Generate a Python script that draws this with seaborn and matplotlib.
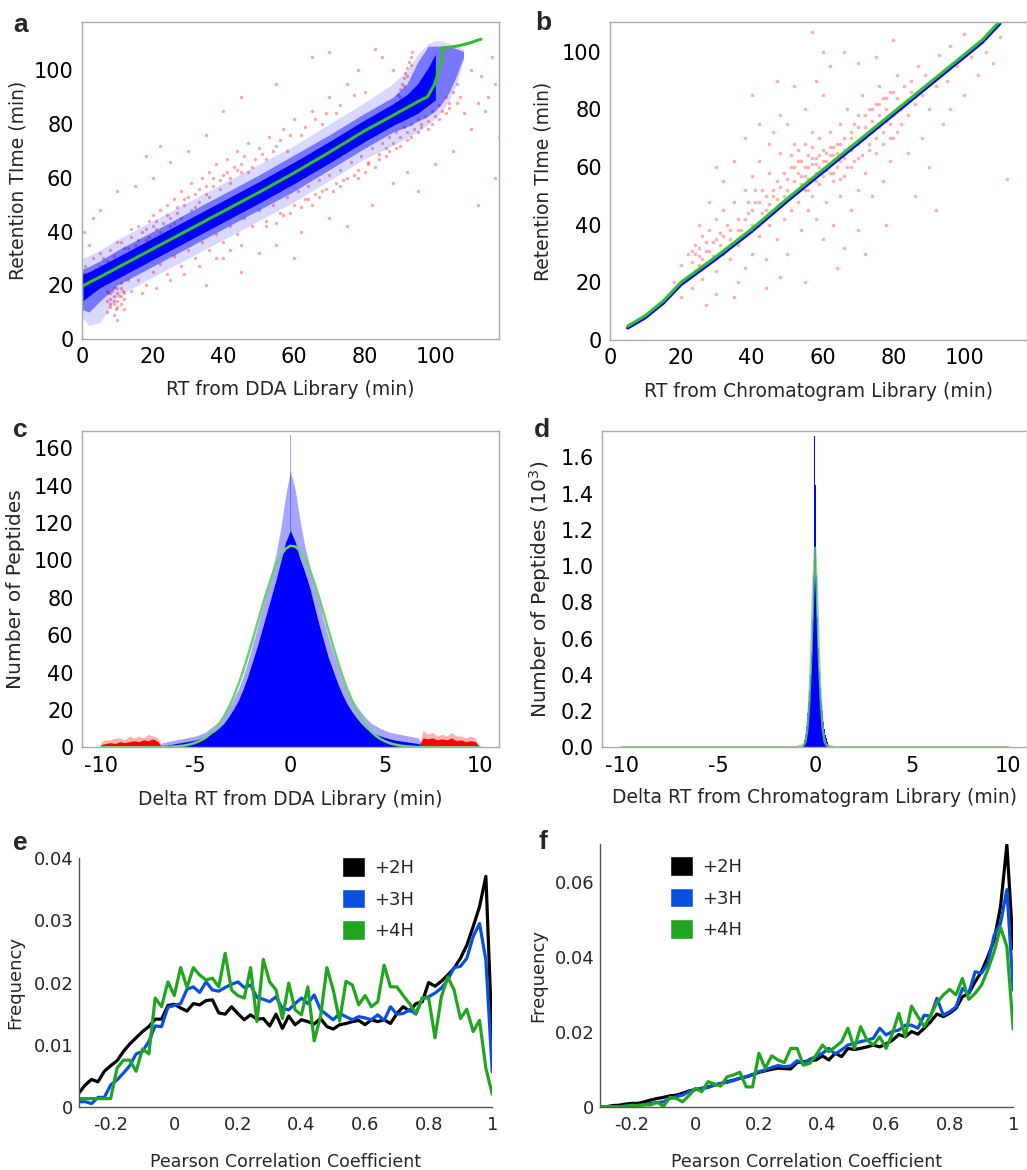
import numpy as np
import pandas as pd
import seaborn as sns
import matplotlib.pyplot as plt
from matplotlib.patches import Patch
from matplotlib.ticker import MultipleLocator, FormatStrFormatter

sns.set_style("white")
plt.rcParams['font.family'] = ['DejaVu Sans']
plt.rcParams['axes.unicode_minus'] = False

BLUE = '#0000ff'
RED = '#ff0000'
GREEN = '#2fbf2f'
LGREEN = '#6fcf6f'
E_COLORS = {'+2H': '#000000', '+3H': '#0a50e0', '+4H': '#22a51e'}

# ---------------- panel a : RT vs DDA library ----------------
a_band_x = [0, 2, 5, 10, 20, 30, 40, 50, 60, 70, 80, 88, 92, 95, 98, 100, 102, 104, 106, 108]
a_outer_lo = [8, 5, 6, 16, 23, 30, 37, 44, 51, 59, 67, 72, 75, 77, 80, 82, 85, 89, 95, 104]
a_outer_hi = [30, 31, 33, 37, 44, 51, 58, 65, 72, 80, 88, 95, 100, 106, 110, 111, 111, 110, 109, 108]
a_mid_lo = [11, 10, 14, 20, 27, 34, 41, 48, 55, 63, 71, 77, 79, 81, 83, 85, 88, 92, 98, 105]
a_mid_hi = [26, 27, 29, 33, 40, 47, 54, 61, 68.5, 76, 84, 90, 95, 103, 109, 109, 109, 109, 108, 107]
a_core_x = [0, 2, 5, 10, 20, 30, 40, 50, 60, 70, 80, 88, 92, 95, 98, 100]
a_core_lo = [14, 16, 19, 22.5, 29.5, 36.5, 43.5, 50.5, 57.8, 65.5, 73.5, 79.5, 82, 84, 87, 89]
a_core_hi = [24, 25, 27, 30.5, 37.5, 44.5, 51.5, 58.5, 65.8, 73.5, 81.5, 87.5, 91, 95, 101, 106]
a_fit_x = [0, 0, 2, 5, 10, 20, 30, 40, 50, 60, 70, 80, 88, 95, 97.8, 99.7, 101.1, 101.9, 101.9, 104, 106.8, 110, 112.9]
a_fit_y = [12.5, 19.5, 21, 23, 26.5, 33.5, 40.5, 47.5, 54.5, 61.8, 69.5, 77.5, 83.2, 88.3, 90.2, 94.6, 100.2, 104, 108.3, 108.6, 109.2, 110.3, 111.6]
a_red_points = [
    (0.5, 24), (1, 27), (2, 21), (3, 30), (4, 26), (5, 32), (2, 35), (0.5, 40), (3, 45),
    (7, 14), (7.5, 17), (8, 12), (8, 15), (8.5, 18), (9, 13), (9, 16), (9.5, 11), (10, 14), (10, 19),
    (10.5, 16), (11, 13), (11, 21), (11.5, 18), (12, 15), (12, 24), (13, 22), (7, 10), (9, 9), (10, 7), (12, 11),
    (8, 17), (9, 19), (10, 12), (11, 16), (12, 17), (9, 14), (10, 17), (11, 19), (8, 13), (7, 18),
    (6, 30), (8, 33), (10, 36), (12, 34), (14, 38), (15, 35), (16, 42), (17, 40), (18, 37), (19, 44),
    (20, 46), (21, 41), (22, 48), (23, 43), (24, 50), (25, 45), (26, 52), (27, 47), (28, 55), (29, 50),
    (30, 53), (31, 58), (32, 49), (33, 56), (34, 60), (35, 54), (36, 62), (37, 57), (38, 65), (39, 59),
    (40, 61), (41, 67), (42, 58), (43, 64), (44, 70), (45, 62), (46, 68), (47, 73), (48, 64), (50, 71),
    (52, 67), (53, 75), (55, 72), (57, 78), (58, 70), (60, 82), (62, 76), (65, 85), (68, 80), (70, 90),
    (72, 84), (75, 95), (78, 100), (80, 92), (85, 105), (83, 108), (88, 100),
    (11, 36), (13, 34), (14, 41), (16, 37), (18, 41), (19, 38), (21, 44), (22, 40), (24, 46), (25, 42),
    (27, 49), (28, 45), (29, 52), (31, 48), (32, 54), (33, 51), (35, 57), (36, 53), (37, 60), (39, 56),
    (41, 62), (42, 60), (44, 63), (45, 65), (47, 62), (49, 67), (51, 69), (54, 70), (56, 74), (59, 76),
    (63, 79), (66, 82), (69, 84), (73, 87), (77, 91), (12, 28), (9, 31), (5, 27), (7, 29), (38, 44),
    (26, 43), (20, 42),
    (20, 60), (15, 57), (25, 66), (30, 70), (35, 76), (40, 85), (22, 72), (45, 90), (55, 95), (65, 105), (70, 107),
    (14, 18), (16, 22), (18, 20), (20, 25), (22, 28), (24, 24), (26, 31), (28, 27), (30, 33), (32, 30),
    (34, 36), (36, 33), (38, 39), (40, 36), (42, 42), (44, 39), (46, 45), (48, 42), (50, 48), (52, 44),
    (54, 50), (56, 47), (58, 53), (60, 50), (61, 55), (63, 52), (64, 57), (66, 54), (67, 59), (69, 56),
    (70, 61), (72, 58), (73, 63), (75, 60), (76, 66), (78, 63), (79, 68), (81, 66), (82, 71), (84, 69),
    (85, 73), (86, 71), (87, 75), (88, 73), (89, 77), (90, 75), (91, 79), (92, 77), (93, 80), (94, 78),
    (95, 82), (96, 80), (97, 83), (98, 81), (99, 85), (100, 83), (101, 87), (102, 85), (103, 90), (104, 88),
    (105, 92), (106, 95), (107, 90),
    (52, 42), (55, 43), (57, 46), (59, 47), (62, 49), (64, 52), (65, 50), (67, 53), (68, 55), (71, 55),
    (73, 57), (74, 59), (77, 61), (78, 60), (80, 62), (81, 65), (83, 64), (84, 67), (86, 68), (87, 70),
    (89, 71), (90, 72), (92, 74), (93, 75), (95, 77), (96, 79), (98, 78), (99, 80), (101, 82), (103, 84),
    (104, 86), (106, 88), (45, 35), (42, 33), (38, 30), (33, 27), (29, 24), (25, 22), (21, 19), (17, 17),
    (35, 20), (45, 25), (55, 35), (62, 40), (70, 45), (75, 42), (82, 50), (88, 58), (92, 62), (95, 55),
    (100, 65), (105, 70), (110, 78), (108, 84), (112, 88), (115, 90), (117, 95), (113, 98), (110, 100),
    (116, 105), (114, 85), (117, 60), (112, 50), (118, 75),
    (89, 88), (89.5, 91), (90, 93), (90.5, 95), (91, 97), (91.5, 99), (92, 101), (92.5, 103), (93, 105),
    (93.5, 107), (90, 90), (91, 94), (92, 98), (93, 102),
    (60, 30), (50, 32), (40, 30), (28, 38), (20, 33), (5, 48), (18, 68), (10, 55),
]

# ---------------- panel b : RT vs chromatogram library ----------------
b_fit_x = [5, 10, 15, 20, 30, 40, 50, 60, 70, 80, 90, 100, 105, 110]
b_fit_y = [4.8, 8.5, 13.5, 20, 29, 38.5, 49, 59, 69, 79, 89, 99, 104, 110.5]
b_blue_y = [4.2, 7.8, 12.8, 19.2, 28.2, 37.7, 48.2, 58.2, 68.2, 78.2, 88.2, 98.2, 103.2, 109.7]
b_red_points = [
    (18, 20), (20, 15), (20, 26), (22, 22), (22, 30), (23, 27), (24, 33), (24, 24), (25, 29), (26, 36),
    (26, 21), (27, 31), (28, 27), (28, 38), (29, 34), (30, 24), (30, 42), (31, 37), (32, 30), (32, 45),
    (33, 40), (34, 35), (34, 28), (35, 48), (36, 42), (36, 33), (37, 38), (38, 52), (38, 25), (39, 44),
    (40, 40), (40, 57), (40, 30), (41, 48), (42, 36), (42, 62), (43, 52), (44, 45), (44, 28), (45, 58),
    (45, 40), (46, 50), (46, 72), (47, 35), (47, 55), (48, 47), (48, 65), (49, 42), (49, 58), (50, 52),
    (50, 30), (50, 75), (51, 60), (51, 45), (52, 55), (52, 68), (53, 48), (53, 62), (54, 57), (54, 38),
    (55, 60), (55, 52), (55, 80), (56, 64), (56, 56), (56, 45), (57, 61), (57, 67), (57, 50), (58, 58),
    (58, 63), (58, 42), (59, 60), (59, 70), (59, 54), (60, 62), (60, 57), (60, 35), (60, 85), (61, 65),
    (61, 59), (61, 48), (62, 67), (62, 61), (62, 72), (63, 64), (63, 55), (63, 40), (64, 68), (64, 60),
    (65, 62), (65, 75), (65, 50), (66, 70), (66, 57), (66, 32), (67, 66), (67, 80), (68, 72), (68, 60),
    (68, 45), (69, 68), (69, 75), (70, 63), (70, 78), (70, 52), (70, 38), (71, 70), (71, 85), (72, 74),
    (72, 58), (73, 68), (73, 80), (74, 76), (74, 50), (75, 82), (75, 65), (76, 78), (76, 88), (77, 72),
    (77, 55), (78, 84), (78, 80), (79, 75), (79, 62), (80, 86), (80, 70), (81, 80), (81, 92), (82, 75),
    (83, 88), (84, 78), (84, 65), (85, 90), (86, 82), (87, 95), (88, 85), (88, 70), (89, 92), (90, 80),
    (90, 60), (92, 88), (93, 99), (94, 75), (95, 90), (96, 102), (98, 95), (100, 85), (100, 106), (102, 98),
    (104, 92), (106, 100), (108, 96), (110, 105), (112, 56), (96, 80), (92, 45), (86, 50), (78, 40), (72, 30),
    (64, 25), (55, 20), (48, 22), (44, 18), (36, 20), (30, 16), (25, 40), (30, 60), (28, 48), (32, 55),
    (35, 62), (38, 70), (42, 75), (48, 78), (52, 88), (58, 90), (62, 95), (66, 100), (70, 96), (75, 98),
    (80, 104), (57, 107), (60, 100), (45, 68), (35, 15), (40, 85), (47, 90), (23, 18), (27, 12),
    (53, 58), (54, 62), (55, 57), (56, 60), (57, 63), (58, 61), (59, 64), (60, 66), (61, 62), (62, 64),
    (63, 67), (64, 65), (65, 68), (66, 66), (52, 60), (54, 54), (56, 52), (58, 55), (60, 59), (62, 58),
    (64, 63), (66, 63), (68, 66), (70, 68), (72, 70), (74, 72), (76, 74), (78, 76), (80, 78), (82, 80),
    (77, 84), (79, 86), (81, 84), (83, 82), (85, 86), (76, 82), (74, 80), (72, 78), (70, 74), (68, 70),
    (24, 30), (25, 32), (26, 28), (27, 34), (28, 31), (29, 29), (30, 35), (31, 33), (23, 31), (25, 26),
    (40, 45), (42, 48), (44, 50), (46, 52), (48, 53), (50, 56), (43, 44), (45, 47), (47, 49), (49, 50),
    (38, 42), (36, 38), (34, 38), (32, 36), (39, 48), (41, 52), (51, 64), (53, 66), (55, 68), (57, 72),
    (63, 58), (65, 56), (67, 60), (69, 62), (71, 64), (73, 66), (75, 70), (77, 68), (79, 70), (81, 72),
]

# ---------------- panel c : delta RT histogram (DDA) ----------------
# bin centres -6.75 ... 6.75 (step 0.25) for the blue part
c_blue_core = [1.0, 1.2, 1.6, 2.1, 2.5, 3.0, 3.4, 3.9, 4.8, 5.7, 7.0, 8.4, 10.5, 13, 16.5, 20.5, 25,
               31, 38, 46, 54, 63, 72, 81, 90, 100, 110,
               116,
               110, 101, 94, 86, 76, 66, 57, 48, 41, 34, 28, 23, 19, 15.5, 12.5, 10, 8.4, 7, 6,
               5.2, 4.5, 3.9, 3.5, 3.1, 2.7, 2.3, 2.0]
c_blue_spike = [2.5, 3, 3.5, 4, 4.5, 5, 5.5, 6, 7, 8, 10, 12, 14, 17, 21, 26, 31,
                38, 46, 55, 64, 74, 84, 94, 104, 118, 135,
                148,
                138, 122, 108, 98, 88, 78, 68, 59, 51, 44, 37, 31, 26, 22, 18.5, 15.5, 13, 11.5, 10,
                9, 8, 7.5, 7, 6.5, 6, 5.5, 5]
c_red_left = [1.5, 2, 2.5, 2, 3, 2.5, 3, 3.5, 3, 4, 3.5, 4.5, 3]
c_red_left_spike = [3, 4, 4, 5, 5, 4, 6, 5, 6, 5, 7, 6, 5]
c_red_right = [5, 4.5, 5, 4, 4.5, 4, 5, 3.5, 4, 3, 3.5, 3]
c_red_right_spike = [9, 7, 8, 6, 7, 6, 8, 6, 6, 5, 6, 5]
c_peak_x = [0.0]
c_peak_y = [167]
c_fit_x = [-10, -8, -7, -6.5] + list(np.arange(-6, 6.01, 0.25)) + [6.5, 7, 8, 10]
c_fit_y = [0, 0, 0.1, 0.2,
           0.49, 0.75, 1.14, 1.7, 2.5, 3.6, 5.0, 7.0, 9.5, 12.7, 16.6, 21.4, 27.0, 33.5, 40.8, 48.9,
           57.4, 66.2, 75.0, 83.4, 91.1, 97.7, 102.8, 106.3, 107.9, 107.5, 105.3, 101.1, 95.4, 88.4,
           80.4, 71.8, 63.0, 54.2, 45.9, 38.0, 31.0, 24.9, 19.6, 15.1, 11.4, 8.5, 6.2, 4.45, 3.14,
           2.17, 1.48, 0.98, 0.64,
           0.2, 0.1, 0, 0]

# ---------------- panel d : delta RT histogram (chromatogram) ----------------
d_counts = [0.02, 0.04, 0.07, 0.12, 0.19, 0.25, 0.31, 0.4, 0.52, 0.7, 0.95, 1.72, 1.45, 0.95, 0.72,
            0.55, 0.42, 0.33, 0.26, 0.2, 0.14, 0.1, 0.07, 0.05, 0.03, 0.015]
d_fit_x = [-10, -1, -0.6, -0.5, -0.4, -0.3, -0.2, -0.1, 0, 0.1, 0.2, 0.3, 0.4, 0.5, 0.6, 1, 10]
d_fit_y = [0, 0, 0.01, 0.03, 0.1, 0.25, 0.5, 0.85, 1.1, 0.85, 0.5, 0.25, 0.1, 0.03, 0.01, 0, 0]

# ---------------- panels e, f : Pearson correlation distributions ----------------
r_bins = np.round(np.arange(-0.30, 1.001, 0.02), 2)
e_2h = [0.0022, 0.0035, 0.0044, 0.0040, 0.0057, 0.0066, 0.0074, 0.0089, 0.0101, 0.0111, 0.0121,
        0.0129, 0.0141, 0.0141, 0.0163, 0.0165, 0.0159, 0.0154, 0.0166, 0.0164, 0.0171, 0.0172,
        0.0151, 0.0149, 0.0161, 0.0150, 0.0140, 0.0148, 0.0141, 0.0142, 0.0130, 0.0149, 0.0126,
        0.0146, 0.0132, 0.0140, 0.0137, 0.0133, 0.0142, 0.0129, 0.0125, 0.0132, 0.0134, 0.0137,
        0.0139, 0.0132, 0.0140, 0.0137, 0.0140, 0.0134, 0.0150, 0.0161, 0.0154, 0.0166, 0.0169,
        0.0200, 0.0194, 0.0202, 0.0212, 0.0223, 0.0239, 0.0260, 0.0290, 0.0322, 0.0371, 0.0105]
e_3h = [0.0008, 0.0008, 0.0005, 0.0015, 0.0015, 0.0035, 0.0043, 0.0054, 0.0066, 0.0085, 0.0089,
        0.0105, 0.0130, 0.0129, 0.0160, 0.0163, 0.0166, 0.0189, 0.0193, 0.0184, 0.0201, 0.0188,
        0.0186, 0.0192, 0.0197, 0.0201, 0.0192, 0.0196, 0.0176, 0.0173, 0.0169, 0.0177, 0.0158,
        0.0156, 0.0166, 0.0175, 0.0166, 0.0180, 0.0156, 0.0148, 0.0140, 0.0150, 0.0145, 0.0140,
        0.0145, 0.0143, 0.0140, 0.0148, 0.0139, 0.0161, 0.0149, 0.0150, 0.0156, 0.0149, 0.0175,
        0.0177, 0.0183, 0.0191, 0.0204, 0.0224, 0.0226, 0.0239, 0.0274, 0.0295, 0.0236, 0.0056]
e_4h = [0.0013, 0.0013, 0.0013, 0.0013, 0.0013, 0.0013, 0.0062, 0.0075, 0.0075, 0.0057, 0.0093,
        0.0085, 0.0175, 0.0161, 0.0201, 0.0179, 0.0224, 0.0192, 0.0224, 0.0212, 0.0204, 0.0207,
        0.0193, 0.0247, 0.0188, 0.0179, 0.0175, 0.0224, 0.0137, 0.0237, 0.0201, 0.0188, 0.0142,
        0.0199, 0.0156, 0.0148, 0.0193, 0.0106, 0.0145, 0.0224, 0.0188, 0.0138, 0.0202, 0.0196,
        0.0164, 0.0179, 0.0161, 0.0169, 0.0228, 0.0193, 0.0193, 0.0179, 0.0166, 0.0150, 0.0175,
        0.0175, 0.0111, 0.0177, 0.0209, 0.0188, 0.0142, 0.0157, 0.0121, 0.0139, 0.0062, 0.0020]
f_2h = [0.0000, 0.0000, 0.0003, 0.0004, 0.0007, 0.0009, 0.0009, 0.0013, 0.0018, 0.0022, 0.0025,
        0.0029, 0.0031, 0.0036, 0.0042, 0.0046, 0.0049, 0.0053, 0.0058, 0.0062, 0.0067, 0.0071,
        0.0076, 0.0080, 0.0086, 0.0092, 0.0096, 0.0100, 0.0103, 0.0102, 0.0101, 0.0118, 0.0120,
        0.0123, 0.0125, 0.0136, 0.0125, 0.0143, 0.0134, 0.0156, 0.0153, 0.0156, 0.0160, 0.0165,
        0.0160, 0.0168, 0.0178, 0.0193, 0.0187, 0.0201, 0.0194, 0.0210, 0.0227, 0.0248, 0.0241,
        0.0250, 0.0263, 0.0294, 0.0303, 0.0334, 0.0361, 0.0401, 0.0446, 0.0535, 0.0700, 0.0423]
f_3h = [0.0000, 0.0000, 0.0000, 0.0000, 0.0002, 0.0003, 0.0004, 0.0006, 0.0009, 0.0011, 0.0013,
        0.0022, 0.0027, 0.0031, 0.0040, 0.0046, 0.0049, 0.0051, 0.0058, 0.0062, 0.0065, 0.0070,
        0.0076, 0.0080, 0.0085, 0.0094, 0.0098, 0.0105, 0.0110, 0.0107, 0.0109, 0.0123, 0.0115,
        0.0127, 0.0134, 0.0143, 0.0156, 0.0141, 0.0152, 0.0165, 0.0169, 0.0174, 0.0178, 0.0183,
        0.0210, 0.0192, 0.0201, 0.0205, 0.0218, 0.0218, 0.0210, 0.0245, 0.0242, 0.0290, 0.0245,
        0.0254, 0.0267, 0.0316, 0.0303, 0.0361, 0.0357, 0.0383, 0.0459, 0.0490, 0.0581, 0.0312]
f_4h = [0.0000, 0.0000, 0.0000, 0.0000, 0.0001, 0.0004, 0.0002, 0.0005, 0.0005, 0.0012, 0.0001,
        0.0025, 0.0022, 0.0013, 0.0030, 0.0049, 0.0040, 0.0067, 0.0061, 0.0055, 0.0080, 0.0085,
        0.0092, 0.0053, 0.0053, 0.0143, 0.0103, 0.0136, 0.0125, 0.0118, 0.0156, 0.0156, 0.0111,
        0.0116, 0.0138, 0.0165, 0.0147, 0.0160, 0.0174, 0.0210, 0.0156, 0.0214, 0.0178, 0.0165,
        0.0187, 0.0156, 0.0196, 0.0250, 0.0187, 0.0269, 0.0241, 0.0214, 0.0245, 0.0278, 0.0299,
        0.0314, 0.0299, 0.0343, 0.0287, 0.0303, 0.0325, 0.0366, 0.0415, 0.0480, 0.0428, 0.0207]
charges = ['+2H', '+3H', '+4H']

TICK = 15


def style_box(ax):
    for s in ax.spines.values():
        s.set_color('#aaaaaa')
        s.set_linewidth(1.0)
    ax.tick_params(direction='out', length=3, width=0.8, color='#999999',
                   labelsize=TICK, pad=3, labelcolor='black')


def style_open(ax, ymajor, yminor):
    ax.spines['top'].set_visible(False)
    ax.spines['right'].set_visible(False)
    for s in ('left', 'bottom'):
        ax.spines[s].set_color('#555555')
        ax.spines[s].set_linewidth(1.0)
    ax.xaxis.set_major_locator(MultipleLocator(0.2))
    ax.xaxis.set_minor_locator(MultipleLocator(0.1))
    ax.yaxis.set_major_locator(MultipleLocator(ymajor))
    ax.yaxis.set_minor_locator(MultipleLocator(yminor))
    ax.xaxis.set_major_formatter(FormatStrFormatter('%g'))
    ax.yaxis.set_major_formatter(FormatStrFormatter('%g'))
    ax.tick_params(which='both', direction='in', length=3.5, width=0.8, color='#555555')
    ax.tick_params(axis='x', which='major', labelsize=13, pad=7)
    ax.tick_params(axis='y', which='major', labelsize=13, pad=4)


def weighted_hist(ax, centers, heights, width, lo, hi, color, alpha, element='bars'):
    data = pd.DataFrame({'x': centers, 'w': heights})
    sns.histplot(data=data, x='x', weights='w', binwidth=width, binrange=(lo, hi),
                 element=element, color=color, alpha=alpha, linewidth=0, ax=ax)


fig = plt.figure(figsize=(10.27, 11.70), dpi=100)

# ---- a ----
ax = fig.add_axes([0.0798, 0.7103, 0.406, 0.2709])
pts = pd.DataFrame(a_red_points, columns=['x', 'y'])
sns.scatterplot(data=pts, x='x', y='y', color=RED, s=6, alpha=0.35, linewidth=0, ax=ax)
ax.fill_between(a_band_x, a_outer_lo, a_outer_hi, color=BLUE, alpha=0.15, lw=0)
ax.fill_between(a_band_x, a_mid_lo, a_mid_hi, color=BLUE, alpha=0.45, lw=0)
ax.fill_between(a_core_x, a_core_lo, a_core_hi, color=BLUE, alpha=1.0, lw=0)
sns.lineplot(x=a_fit_x, y=a_fit_y, sort=False, estimator=None, color=GREEN, lw=2.2, ax=ax)
ax.set_xlim(0, 118)
ax.set_ylim(0, 118)
ax.set_xticks(range(0, 101, 20))
ax.set_yticks(range(0, 101, 20))
style_box(ax)
ax.set_xlabel('RT from DDA Library (min)', fontsize=13.5)
ax.set_ylabel('Retention TIme (min)', fontsize=13.5)
ax.xaxis.set_label_coords(0.5, -0.13)
ax.yaxis.set_label_coords(-0.13, 0.5)

# ---- b ----
ax = fig.add_axes([0.594, 0.7094, 0.406, 0.2718])
pts = pd.DataFrame(b_red_points, columns=['x', 'y'])
sns.scatterplot(data=pts, x='x', y='y', color=RED, s=7, alpha=0.3, linewidth=0, ax=ax)
sns.lineplot(x=b_fit_x, y=b_blue_y, sort=False, estimator=None, color=BLUE, lw=2.4, ax=ax)
sns.lineplot(x=b_fit_x, y=b_fit_y, sort=False, estimator=None, color=GREEN, lw=2.2, ax=ax)
ax.set_xlim(0, 117.7)
ax.set_ylim(0, 110.3)
ax.set_xticks(range(0, 101, 20))
ax.set_yticks(range(0, 101, 20))
style_box(ax)
ax.set_xlabel('RT from Chromatogram Library (min)', fontsize=13.5)
ax.set_ylabel('Retention TIme (min)', fontsize=13.5)
ax.xaxis.set_label_coords(0.5, -0.133)
ax.yaxis.set_label_coords(-0.137, 0.5)

# ---- c ----
ax = fig.add_axes([0.0798, 0.3613, 0.406, 0.2706])
blue_centers = np.arange(-6.75, 6.76, 0.25)
red_left_centers = np.arange(-10.0, -6.9, 0.25)
red_right_centers = np.arange(7.0, 9.8, 0.25)
c_range = (-10.125, 10.125)
weighted_hist(ax, red_left_centers, c_red_left_spike, 0.25, *c_range, RED, 0.3, 'poly')
weighted_hist(ax, red_right_centers, c_red_right_spike, 0.25, *c_range, RED, 0.3, 'poly')
weighted_hist(ax, red_left_centers, c_red_left, 0.25, *c_range, RED, 1, 'poly')
weighted_hist(ax, red_right_centers, c_red_right, 0.25, *c_range, RED, 1, 'poly')
weighted_hist(ax, blue_centers, c_blue_spike, 0.25, *c_range, BLUE, 0.35, 'poly')
weighted_hist(ax, c_peak_x, c_peak_y, 0.05, -0.025, 0.025, BLUE, 0.35)
weighted_hist(ax, blue_centers, c_blue_core, 0.25, *c_range, BLUE, 1, 'poly')
sns.lineplot(x=c_fit_x, y=c_fit_y, sort=False, estimator=None, color=LGREEN, lw=1.8, ax=ax)
ax.set_xlim(-11, 11)
ax.set_ylim(0, 169.5)
ax.set_xticks([-10, -5, 0, 5, 10])
ax.set_yticks(range(0, 161, 20))
style_box(ax)
ax.set_xlabel('Delta RT from DDA Library (min)', fontsize=13.5)
ax.set_ylabel('Number of Peptides', fontsize=14.5)
ax.xaxis.set_label_coords(0.5, -0.135)
ax.yaxis.set_label_coords(-0.137, 0.5)

# ---- d ----
ax = fig.add_axes([0.5865, 0.3613, 0.4135, 0.2706])
d_centers = np.round(np.arange(-0.575, 0.7, 0.05), 3)
weighted_hist(ax, d_centers, d_counts, 0.05, -0.6, 0.7, BLUE, 1)
sns.lineplot(x=d_fit_x, y=d_fit_y, sort=False, estimator=None, color=LGREEN, lw=1.8,
             alpha=0.8, ax=ax)
ax.set_xlim(-11, 10.96)
ax.set_ylim(0, 1.747)
ax.set_xticks([-10, -5, 0, 5, 10])
ax.set_yticks(np.arange(0, 1.61, 0.2))
ax.yaxis.set_major_formatter(FormatStrFormatter('%.1f'))
style_box(ax)
ax.set_xlabel('Delta RT from Chromatogram Library (min)', fontsize=13.5)
ax.set_ylabel('Number of Peptides (10$^3$)', fontsize=14.5)
ax.xaxis.set_label_coords(0.5, -0.13)
ax.yaxis.set_label_coords(-0.115, 0.5)

# ---- e ----
ax = fig.add_axes([0.0768, 0.0541, 0.4025, 0.2123])
df_e = pd.DataFrame({'r': np.tile(r_bins, 3), 'freq': e_2h + e_3h + e_4h,
                     'charge': np.repeat(charges, len(r_bins))})
sns.lineplot(data=df_e, x='r', y='freq', hue='charge', palette=E_COLORS, lw=2.3,
             estimator=None, legend=False, ax=ax)
ax.set_xlim(-0.3, 1.0)
ax.set_ylim(0, 0.04)
style_open(ax, 0.01, 0.002)
ax.set_xlabel('Pearson Correlation Coefficient', fontsize=12.5)
ax.set_ylabel('Frequency', fontsize=13)
ax.xaxis.set_label_coords(0.5, -0.185)
ax.yaxis.set_label_coords(-0.133, 0.5)
handles = [Patch(facecolor=E_COLORS[c], label=c) for c in charges]
ax.legend(handles=handles, loc='upper left', bbox_to_anchor=(0.636, 1.005), frameon=False,
          fontsize=13, handlelength=1.3, handleheight=1.3, handletextpad=0.5,
          labelspacing=0.65, borderaxespad=0, borderpad=0)

# ---- f ----
ax = fig.add_axes([0.5842, 0.0541, 0.4024, 0.2243])
df_f = pd.DataFrame({'r': np.tile(r_bins, 3), 'freq': f_2h + f_3h + f_4h,
                     'charge': np.repeat(charges, len(r_bins))})
sns.lineplot(data=df_f, x='r', y='freq', hue='charge', palette=E_COLORS, lw=2.3,
             estimator=None, legend=False, ax=ax)
ax.set_xlim(-0.3, 1.0)
ax.set_ylim(0, 0.0702)
style_open(ax, 0.02, 0.01)
ax.set_xlabel('Pearson Correlation Coefficient', fontsize=12.5)
ax.set_ylabel('Frequency', fontsize=13)
ax.xaxis.set_label_coords(0.5, -0.175)
ax.yaxis.set_label_coords(-0.1275, 0.5)
ax.legend(handles=handles, loc='upper left', bbox_to_anchor=(0.169, 0.955), frameon=False,
          fontsize=13, handlelength=1.3, handleheight=1.3, handletextpad=0.5,
          labelspacing=0.65, borderaxespad=0, borderpad=0)

# panel letters
for letter, x, y in [('a', 0.0127, 0.9726), ('b', 0.521, 0.9744), ('c', 0.0127, 0.6262),
                     ('d', 0.520, 0.6267), ('e', 0.0127, 0.2735), ('f', 0.524, 0.2741)]:
    fig.text(x, y, letter, fontsize=19, fontweight='bold', family='Liberation Sans',
             va='baseline', ha='left')

fig.savefig('out.png', dpi=100)
